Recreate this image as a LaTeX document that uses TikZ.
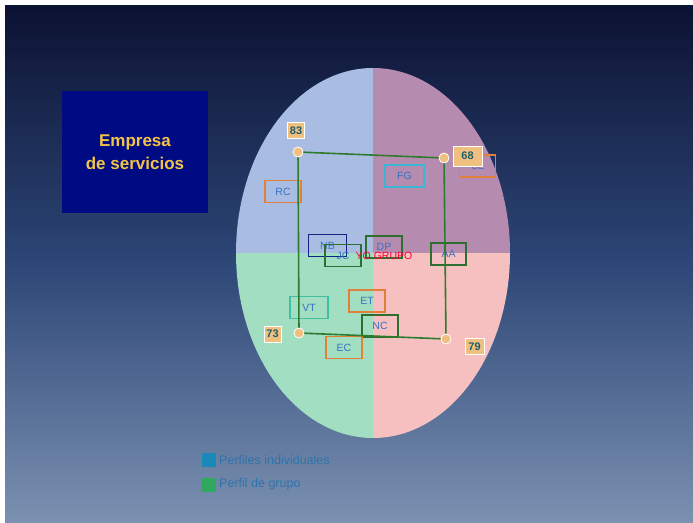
\documentclass[tikz,border=0pt]{standalone}
\usepackage{fontspec}
\setmainfont{Liberation Sans}
\usetikzlibrary{shapes.geometric}
\definecolor{bgtop}{HTML}{0B1030}
\definecolor{bgmid}{HTML}{2C4676}
\definecolor{bgbot}{HTML}{7C92B2}
\definecolor{qtl}{HTML}{A9BDE2}
\definecolor{qtr}{HTML}{B68BB0}
\definecolor{qbl}{HTML}{A2DEC2}
\definecolor{qbr}{HTML}{F6C0C0}
\definecolor{navybox}{HTML}{000A82}
\definecolor{gold}{HTML}{F2C44A}
\definecolor{pgreen}{HTML}{2E7A2E}
\definecolor{peach}{HTML}{F0C080}
\definecolor{lblue}{HTML}{3A72C0}
\definecolor{borange}{HTML}{E0803A}
\definecolor{bcyan}{HTML}{3CB4D4}
\definecolor{bnavy}{HTML}{12208A}
\definecolor{bgreen}{HTML}{2E6E2E}
\definecolor{bteal}{HTML}{40C0A0}
\definecolor{numtxt}{HTML}{1E5E6A}
\definecolor{legtxt}{HTML}{2E74AC}
\definecolor{legblue}{HTML}{1A88B8}
\definecolor{leggreen}{HTML}{30A860}
\tikzset{
  lbox/.style={draw=#1, line width=1.5pt, minimum width=36pt, minimum height=22pt, inner sep=0pt,
    text=lblue, font=\fontsize{10.5}{11}\selectfont},
  numbox/.style={fill=peach, draw=white, line width=1pt, inner sep=1.5pt, text=numtxt,
    font=\bfseries\fontsize{11}{12}\selectfont, minimum height=16pt, minimum width=17pt},
  dot/.style={circle, fill=peach, draw=white, line width=0.8pt, minimum size=10pt, inner sep=0pt},
  gline/.style={draw=pgreen, line width=1.6pt}
}
\begin{document}
\begin{tikzpicture}[x=1pt,y=-1pt]
\useasboundingbox (0,0) rectangle (693,522);
% background
\shade[top color=bgtop, bottom color=bgbot, middle color=bgmid] (-3,-3) rectangle (696,525);
\fill[white] (-3,-3) rectangle (696,5);
\fill[white] (-3,-3) rectangle (5,525);
% ellipse quadrants
\begin{scope}
\clip (373,253) ellipse [x radius=137, y radius=185];
\fill[qtl] (200,40) rectangle (373,253);
\fill[qtr] (373,40) rectangle (540,253);
\fill[qbl] (200,253) rectangle (373,470);
\fill[qbr] (373,253) rectangle (540,470);
\end{scope}
% title box
\node[fill=navybox, minimum width=146pt, minimum height=122pt, inner sep=0pt, align=center,
  text=gold, font=\bfseries\fontsize{17}{23}\selectfont] (title) at (135,152) {Empresa\\de servicios};
% label boxes
\node[lbox=borange] (RC) at (283,191.5) {RC};
\node[lbox=bcyan, minimum width=39pt] (FG) at (404.5,176) {FG};
\node[lbox=borange] (CL) at (477.5,166) {CL};
\node[lbox=bnavy, minimum width=38pt] (NB) at (327.5,245.5) {NB};
\node[lbox=bgreen] (JC) at (343,255.5) {JC};
\node[lbox=bgreen] (DP) at (384,247) {DP};
\node[lbox=bgreen, minimum width=35pt] (AA) at (448.5,254) {AA};
\node[lbox=bteal, minimum width=38pt] (VT) at (309,307.5) {VT};
\node[lbox=borange] (ET) at (367,301) {ET};
\node[lbox=bgreen] (NC) at (380,326) {NC};
\node[lbox=borange] (EC) at (344,347.5) {EC};
\node[text=red!80!magenta, font=\fontsize{10.5}{11}\selectfont] (YO) at (384,256) {YO GRUPO};
% group profile polygon
\node[dot] (p1) at (298,152) {};
\node[dot] (p2) at (444,158) {};
\node[dot] (p3) at (446,339) {};
\node[dot] (p4) at (299,333) {};
\draw[gline] (p1) -- (p2) -- (p3) -- (p4) -- (p1);
% numbers
\node[numbox] (n83) at (296,130.5) {83};
\node[numbox, minimum width=29pt, minimum height=20pt] (n68) at (467.5,156) {68};
\node[numbox] (n73) at (272.5,334) {73};
\node[numbox, minimum width=19pt] (n79) at (474.5,346.5) {79};
% legend
\node[fill=legblue, minimum size=14pt, inner sep=0pt] (l1) at (208.5,460) {};
\node[fill=leggreen, minimum size=14pt, inner sep=0pt] (l2) at (208.5,484.5) {};
\node[anchor=west, text=legtxt, font=\fontsize{12.5}{13}\selectfont] (t1) at (l1.east) {Perfiles individuales};
\node[anchor=west, text=legtxt, font=\fontsize{12.5}{13}\selectfont] (t2) at (l2.east) {Perfil de grupo};
\end{tikzpicture}
\end{document}
